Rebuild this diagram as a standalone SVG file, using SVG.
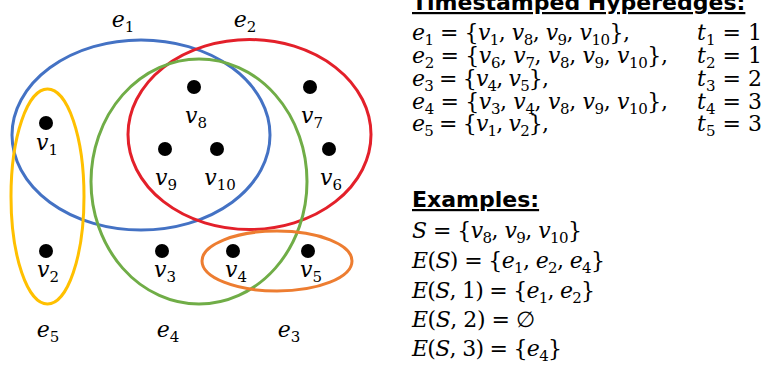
<svg xmlns="http://www.w3.org/2000/svg" width="768" height="373" viewBox="0 0 768 373">
<style>
.m { font-family: "DejaVu Serif", "Liberation Serif", serif; font-size: 22px; fill: #000; }
.i { font-style: italic; }
.s { font-size: 15px; }
.h { font-family: "DejaVu Sans", Verdana, sans-serif; font-weight: bold; font-size: 22px; text-decoration: underline; fill: #000; }
.edge { fill: none; stroke-width: 3; }
.dot { fill: #000; }
</style>
<rect width="768" height="373" fill="#fff"/>
<g id="connectors">
  <ellipse id="e1-shape" class="edge" cx="141" cy="135" rx="129" ry="95" stroke="#4472C4"/>
  <ellipse id="e2-shape" class="edge" cx="249.5" cy="134.5" rx="121.5" ry="95" stroke="#E3202A"/>
  <ellipse id="e4-shape" class="edge" cx="199" cy="181.5" rx="108" ry="122.5" stroke="#70AD47"/>
  <ellipse id="e5-shape" class="edge" cx="47.5" cy="196.5" rx="36.5" ry="107.5" stroke="#FFC000"/>
  <ellipse id="e3-shape" class="edge" cx="277" cy="261" rx="75" ry="30" stroke="#ED7D31"/>
</g>
<g id="edge-labels" class="m" text-anchor="middle">
  <text x="123" y="27"><tspan class="i">e</tspan><tspan class="s" dy="5">1</tspan></text>
  <text x="245" y="27"><tspan class="i">e</tspan><tspan class="s" dy="5">2</tspan></text>
  <text x="48" y="337"><tspan class="i">e</tspan><tspan class="s" dy="5">5</tspan></text>
  <text x="168" y="337"><tspan class="i">e</tspan><tspan class="s" dy="5">4</tspan></text>
  <text x="289" y="337"><tspan class="i">e</tspan><tspan class="s" dy="5">3</tspan></text>
</g>
<g id="v1"><circle class="dot" cx="46" cy="123" r="7"/><text class="m" x="47" y="150" text-anchor="middle"><tspan class="i">v</tspan><tspan class="s" dy="5">1</tspan></text></g>
<g id="v8"><circle class="dot" cx="194" cy="87" r="7"/><text class="m" x="196" y="123" text-anchor="middle"><tspan class="i">v</tspan><tspan class="s" dy="5">8</tspan></text></g>
<g id="v7"><circle class="dot" cx="310" cy="87" r="7"/><text class="m" x="312" y="123" text-anchor="middle"><tspan class="i">v</tspan><tspan class="s" dy="5">7</tspan></text></g>
<g id="v9"><circle class="dot" cx="165" cy="149" r="7"/><text class="m" x="166" y="185" text-anchor="middle"><tspan class="i">v</tspan><tspan class="s" dy="5">9</tspan></text></g>
<g id="v10"><circle class="dot" cx="217" cy="149" r="7"/><text class="m" x="220" y="185" text-anchor="middle"><tspan class="i">v</tspan><tspan class="s" dy="5">10</tspan></text></g>
<g id="v6"><circle class="dot" cx="329" cy="149" r="7"/><text class="m" x="331" y="185" text-anchor="middle"><tspan class="i">v</tspan><tspan class="s" dy="5">6</tspan></text></g>
<g id="v2"><circle class="dot" cx="46" cy="251" r="7"/><text class="m" x="48" y="277" text-anchor="middle"><tspan class="i">v</tspan><tspan class="s" dy="5">2</tspan></text></g>
<g id="v3"><circle class="dot" cx="162" cy="251" r="7"/><text class="m" x="165" y="277" text-anchor="middle"><tspan class="i">v</tspan><tspan class="s" dy="5">3</tspan></text></g>
<g id="v4"><circle class="dot" cx="233" cy="251" r="7"/><text class="m" x="236" y="277" text-anchor="middle"><tspan class="i">v</tspan><tspan class="s" dy="5">4</tspan></text></g>
<g id="v5"><circle class="dot" cx="308" cy="251" r="7"/><text class="m" x="311" y="277" text-anchor="middle"><tspan class="i">v</tspan><tspan class="s" dy="5">5</tspan></text></g>
<g id="hyperedge-list">
  <text class="h" x="412" y="10">Timestamped Hyperedges:</text>
  <text class="m" x="412" y="40" textLength="218" lengthAdjust="spacing"><tspan class="i">e</tspan><tspan class="s" dy="5">1</tspan><tspan dy="-5"> = {</tspan><tspan class="i">v</tspan><tspan class="s" dy="5">1</tspan><tspan dy="-5">, </tspan><tspan class="i">v</tspan><tspan class="s" dy="5">8</tspan><tspan dy="-5">, </tspan><tspan class="i">v</tspan><tspan class="s" dy="5">9</tspan><tspan dy="-5">, </tspan><tspan class="i">v</tspan><tspan class="s" dy="5">10</tspan><tspan dy="-5">},</tspan></text>
  <text class="m" x="412" y="63" textLength="256" lengthAdjust="spacing"><tspan class="i">e</tspan><tspan class="s" dy="5">2</tspan><tspan dy="-5"> = {</tspan><tspan class="i">v</tspan><tspan class="s" dy="5">6</tspan><tspan dy="-5">, </tspan><tspan class="i">v</tspan><tspan class="s" dy="5">7</tspan><tspan dy="-5">, </tspan><tspan class="i">v</tspan><tspan class="s" dy="5">8</tspan><tspan dy="-5">, </tspan><tspan class="i">v</tspan><tspan class="s" dy="5">9</tspan><tspan dy="-5">, </tspan><tspan class="i">v</tspan><tspan class="s" dy="5">10</tspan><tspan dy="-5">},</tspan></text>
  <text class="m" x="412" y="86" textLength="137" lengthAdjust="spacing"><tspan class="i">e</tspan><tspan class="s" dy="5">3</tspan><tspan dy="-5"> = {</tspan><tspan class="i">v</tspan><tspan class="s" dy="5">4</tspan><tspan dy="-5">, </tspan><tspan class="i">v</tspan><tspan class="s" dy="5">5</tspan><tspan dy="-5">},</tspan></text>
  <text class="m" x="412" y="108.5" textLength="256" lengthAdjust="spacing"><tspan class="i">e</tspan><tspan class="s" dy="5">4</tspan><tspan dy="-5"> = {</tspan><tspan class="i">v</tspan><tspan class="s" dy="5">3</tspan><tspan dy="-5">, </tspan><tspan class="i">v</tspan><tspan class="s" dy="5">4</tspan><tspan dy="-5">, </tspan><tspan class="i">v</tspan><tspan class="s" dy="5">8</tspan><tspan dy="-5">, </tspan><tspan class="i">v</tspan><tspan class="s" dy="5">9</tspan><tspan dy="-5">, </tspan><tspan class="i">v</tspan><tspan class="s" dy="5">10</tspan><tspan dy="-5">},</tspan></text>
  <text class="m" x="412" y="131" textLength="137" lengthAdjust="spacing"><tspan class="i">e</tspan><tspan class="s" dy="5">5</tspan><tspan dy="-5"> = {</tspan><tspan class="i">v</tspan><tspan class="s" dy="5">1</tspan><tspan dy="-5">, </tspan><tspan class="i">v</tspan><tspan class="s" dy="5">2</tspan><tspan dy="-5">},</tspan></text>
  <text class="m" x="697" y="40" textLength="65" lengthAdjust="spacing"><tspan class="i">t</tspan><tspan class="s" dy="5">1</tspan><tspan dy="-5"> = 1</tspan></text>
  <text class="m" x="697" y="63" textLength="65" lengthAdjust="spacing"><tspan class="i">t</tspan><tspan class="s" dy="5">2</tspan><tspan dy="-5"> = 1</tspan></text>
  <text class="m" x="697" y="86" textLength="65" lengthAdjust="spacing"><tspan class="i">t</tspan><tspan class="s" dy="5">3</tspan><tspan dy="-5"> = 2</tspan></text>
  <text class="m" x="697" y="108.5" textLength="65" lengthAdjust="spacing"><tspan class="i">t</tspan><tspan class="s" dy="5">4</tspan><tspan dy="-5"> = 3</tspan></text>
  <text class="m" x="697" y="131" textLength="65" lengthAdjust="spacing"><tspan class="i">t</tspan><tspan class="s" dy="5">5</tspan><tspan dy="-5"> = 3</tspan></text>
</g>
<g id="examples">
  <text class="h" x="412" y="207">Examples:</text>
  <text class="m" x="412" y="238" textLength="170" lengthAdjust="spacing"><tspan class="i">S</tspan> = {<tspan class="i">v</tspan><tspan class="s" dy="5">8</tspan><tspan dy="-5">, </tspan><tspan class="i">v</tspan><tspan class="s" dy="5">9</tspan><tspan dy="-5">, </tspan><tspan class="i">v</tspan><tspan class="s" dy="5">10</tspan><tspan dy="-5">}</tspan></text>
  <text class="m" x="412" y="268" textLength="193" lengthAdjust="spacing"><tspan class="i">E</tspan>(<tspan class="i">S</tspan>) = {<tspan class="i">e</tspan><tspan class="s" dy="5">1</tspan><tspan dy="-5">, </tspan><tspan class="i">e</tspan><tspan class="s" dy="5">2</tspan><tspan dy="-5">, </tspan><tspan class="i">e</tspan><tspan class="s" dy="5">4</tspan><tspan dy="-5">}</tspan></text>
  <text class="m" x="412" y="298" textLength="183" lengthAdjust="spacing"><tspan class="i">E</tspan>(<tspan class="i">S</tspan>, 1) = {<tspan class="i">e</tspan><tspan class="s" dy="5">1</tspan><tspan dy="-5">, </tspan><tspan class="i">e</tspan><tspan class="s" dy="5">2</tspan><tspan dy="-5">}</tspan></text>
  <text class="m" x="412" y="327" textLength="123" lengthAdjust="spacing"><tspan class="i">E</tspan>(<tspan class="i">S</tspan>, 2) = ∅</text>
  <text class="m" x="412" y="356" textLength="150" lengthAdjust="spacing"><tspan class="i">E</tspan>(<tspan class="i">S</tspan>, 3) = {<tspan class="i">e</tspan><tspan class="s" dy="5">4</tspan><tspan dy="-5">}</tspan></text>
</g>
</svg>
